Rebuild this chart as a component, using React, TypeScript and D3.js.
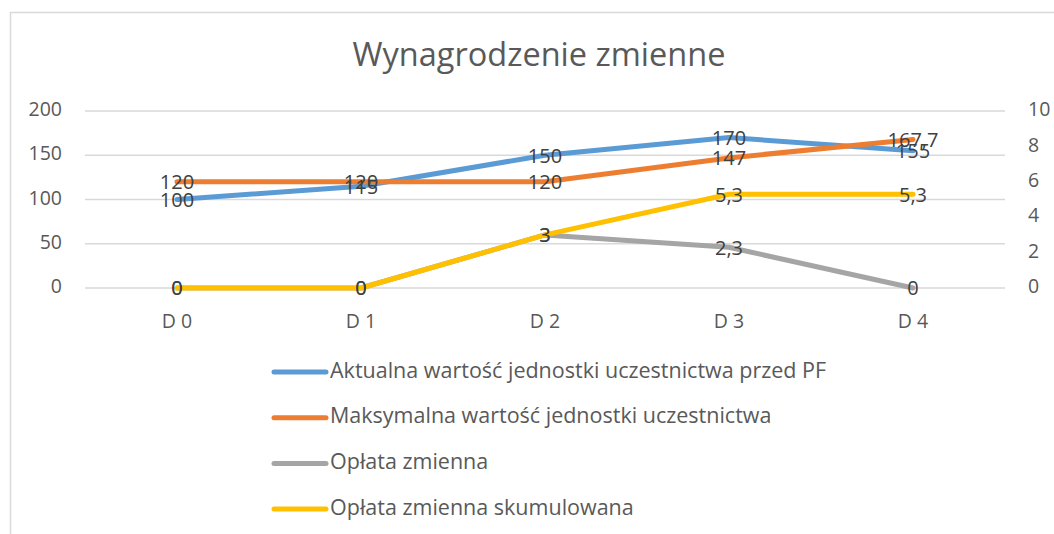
import * as d3 from "d3";

const categories = ["D 0", "D 1", "D 2", "D 3", "D 4"];
const aktualna = [100, 115, 150, 170, 155];
const maksymalna = [120, 120, 120, 147, 167.7];
const oplata = [0, 0, 3, 2.3, 0];
const oplataSkum = [0, 0, 3, 5.3, 5.3];
const leftTicks = [0, 50, 100, 150, 200];
const rightTicks = [0, 2, 4, 6, 8, 10];

const WIDTH = 1054;
const HEIGHT = 534;
const FONT = "'Open Sans', Lato, sans-serif";
const TEXT = "#595959";
const LABEL = "#404040";

type Series = { name: string; values: number[]; color: string; axis: "left" | "right" };

const series: Series[] = [
  { name: "Aktualna wartość jednostki uczestnictwa przed PF", values: aktualna, color: "#5B9BD5", axis: "left" },
  { name: "Maksymalna wartość jednostki uczestnictwa", values: maksymalna, color: "#ED7D31", axis: "left" },
  { name: "Opłata zmienna", values: oplata, color: "#A5A5A5", axis: "right" },
  { name: "Opłata zmienna skumulowana", values: oplataSkum, color: "#FFC000", axis: "right" },
];

const fmt = (v: number) => String(v).replace(".", ",");

const App = () => {
  const x = d3.scalePoint<string>().domain(categories).range([85, 1005]).padding(0.5);
  const yLeft = d3.scaleLinear().domain([0, 200]).range([288, 111]);
  const yRight = d3.scaleLinear().domain([0, 10]).range([288, 111]);

  const lineFor = (s: Series) => {
    const y = s.axis === "left" ? yLeft : yRight;
    return d3
      .line<number>()
      .x((_, i) => x(categories[i]) as number)
      .y((d) => y(d))(s.values) as string;
  };

  return (
    <svg width={WIDTH} height={HEIGHT} style={{ position: "absolute", left: 0, top: 0 }} fontFamily={FONT}>
      <rect x={0} y={0} width={WIDTH} height={HEIGHT} fill="#fff" />
      <rect x={10.5} y={12.5} width={WIDTH + 20} height={HEIGHT + 20} fill="none" stroke="#D9D9D9" strokeWidth={1.5} />

      <text x={539} y={57} textAnchor="middle" dominantBaseline="middle" fontSize={32.5} fill={TEXT}>
        Wynagrodzenie zmienne
      </text>

      {/* gridlines + left axis */}
      {leftTicks.map((t) => (
        <g key={t}>
          <line x1={85} x2={1005} y1={yLeft(t)} y2={yLeft(t)} stroke="#D9D9D9" strokeWidth={1.5} />
          <text x={62} y={yLeft(t)} textAnchor="end" dominantBaseline="middle" fontSize={19.5} fill={TEXT}>
            {t}
          </text>
        </g>
      ))}
      {rightTicks.map((t) => (
        <text key={t} x={1028} y={yRight(t)} textAnchor="start" dominantBaseline="middle" fontSize={19.5} fill={TEXT}>
          {t}
        </text>
      ))}
      {categories.map((c) => (
        <text key={c} x={x(c)} y={323} textAnchor="middle" dominantBaseline="middle" fontSize={19.5} fill={TEXT}>
          {c}
        </text>
      ))}

      {series.map((s) => (
        <path key={s.name} d={lineFor(s)} fill="none" stroke={s.color} strokeWidth={5} strokeLinecap="round" strokeLinejoin="round" />
      ))}

      {series.map((s) => {
        const y = s.axis === "left" ? yLeft : yRight;
        return s.values.map((v, i) => (
          <text
            key={s.name + i}
            x={x(categories[i])}
            y={y(v) + 2}
            textAnchor="middle"
            dominantBaseline="middle"
            fontSize={20}
            fill={LABEL}
          >
            {fmt(v)}
          </text>
        ));
      })}

      {/* legend */}
      {series.map((s, i) => {
        const ly = 372 + i * 45.7;
        return (
          <g key={s.name}>
            <line x1={274} x2={326} y1={ly} y2={ly} stroke={s.color} strokeWidth={5} strokeLinecap="round" />
            <text x={330} y={ly} dominantBaseline="middle" fontSize={21.5} fill={TEXT}>
              {s.name}
            </text>
          </g>
        );
      })}
    </svg>
  );
};

export default App;
